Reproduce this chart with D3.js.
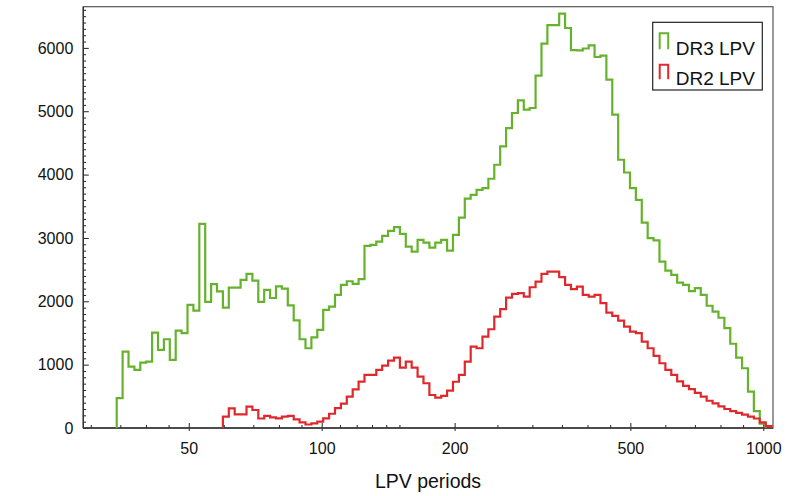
<!DOCTYPE html>
<html lang="en">
    <head>
        <meta charset="utf-8">
        <title>LPV periods histogram</title>
        <script src="https://d3js.org/d3.v7.min.js"></script>
        <style>
            body { margin: 0; background: #fff; }
            text { font-family: "Liberation Sans", Arial, Helvetica, sans-serif; fill: #111; }
        </style>
    </head>
<body>
    <div id="chart"></div>
    <script type="text/javascript">

var w = 804;
var h = 496;
// plot frame in pixels
var plotL = 83.3, plotR = 773, plotT = 6.7, plotB = 428;

// histogram bins are equal steps in log10(period)
var binLogStart = 1.5358;
var binLogWidth = 0.01336;

// DR3 LPV counts, bin 0 upwards
var dr3Counts = [470, 1205, 968, 916, 1032, 1048, 1506, 1232, 1401, 1074,
    1537, 1496, 1943, 1853, 3223, 1990, 2272, 2158, 1900, 2216,
    2216, 2338, 2433, 2325, 1990, 2180, 2052, 2237, 2200, 1937,
    1700, 1401, 1259, 1430, 1548, 1864, 1916, 2101, 2259, 2316,
    2275, 2349, 2875, 2891, 2943, 3033, 3112, 3171, 3065, 2864,
    2785, 2970, 2927, 2848, 2927, 2970, 2801, 3049, 3320, 3620,
    3681, 3760, 3787, 3934, 4155, 4444, 4734, 4972, 5171, 5024,
    5051, 5561, 6066, 6360, 6360, 6540, 6314, 5965, 5960, 5990,
    6040, 5856, 5877, 5498, 4945, 4234, 4033, 3787, 3602, 3243,
    2997, 2960, 2627, 2485, 2417, 2295, 2260, 2160, 2207, 2101,
    1930, 1837, 1740, 1575, 1330, 1110, 943, 573, 265, 68];

// DR2 LPV counts, starting at bin 18
var dr2FirstBin = 18;
var dr2Counts = [179, 311, 216, 216, 337, 284, 150, 190, 169, 153,
    179, 190, 137, 90, 55, 74, 100, 153, 225, 315,
    385, 495, 611, 731, 837, 837, 916, 984, 1063, 1111,
    953, 1048, 953, 810, 706, 521, 479, 506, 589, 730,
    837, 1048, 1284, 1259, 1442, 1559, 1758, 1875, 2058, 2117,
    2128, 2074, 2222, 2311, 2433, 2469, 2469, 2381, 2259, 2191,
    2232, 2101, 2074, 2101, 1970, 1822, 1769, 1695, 1600, 1521,
    1496, 1363, 1259, 1137, 1022, 916, 837, 735, 665, 615,
    553, 495, 430, 390, 340, 300, 265, 240, 210, 180,
    150, 90, 30];

var seriesNames = ["DR3 LPV", "DR2 LPV"];
var seriesColors = ["#66b22c", "#e0282c"];

var xMajorTicks = [50, 100, 200, 500, 1000];
var xMinorTicks = [30, 35, 40, 45, 60, 70, 80, 90, 110, 120, 130, 140, 150,
    250, 300, 350, 400, 450, 600, 700, 800, 900];
var yMajorTicks = [0, 1000, 2000, 3000, 4000, 5000, 6000];
var yMinorStep = 100;
var xTitle = "LPV periods";

var xScale = d3.scaleLog()
    .domain([28.85, 1052])
    .range([plotL, plotR]);

var yScale = d3.scaleLinear()
    .domain([0, 6650])
    .range([plotB, plotT]);

var svgChart;
setSvg();
drawAxes();
drawHist(dr3Counts, 0, seriesColors[0]);
drawHist(dr2Counts, dr2FirstBin, seriesColors[1]);
drawLegend();

function setSvg(){
    svgChart = d3.select("#chart")
      .append("svg")
      .attr("width", w)
      .attr("height", h);
    svgChart.append("rect")
      .attr("width", w).attr("height", h)
      .attr("fill", "#fff");
    svgChart.append("clipPath")
      .attr("id", "plotclip")
      .append("rect")
      .attr("x", plotL).attr("y", plotT)
      .attr("width", plotR - plotL).attr("height", plotB - plotT);
}

function drawAxes(){
    var yMinor = d3.range(0, yScale.domain()[1], yMinorStep)
        .filter(function(v){ return v % 1000 !== 0; });

    // y axis, ticks point inward
    svgChart.append("g")
      .attr("class", "axis")
      .attr("transform", "translate(" + plotL + ",0)")
      .call(d3.axisLeft(yScale).tickValues(yMinor).tickSizeInner(-2.8).tickSizeOuter(0).tickFormat(""));
    var yAxis = svgChart.append("g")
      .attr("class", "axis")
      .attr("transform", "translate(" + plotL + ",0)")
      .call(d3.axisLeft(yScale).tickValues(yMajorTicks).tickSizeInner(-5.5).tickSizeOuter(0)
        .tickPadding(10).tickFormat(d3.format("d")));
    yAxis.selectAll("text").style("font-size", "16px");

    // x axis
    svgChart.append("g")
      .attr("class", "axis")
      .attr("transform", "translate(0," + plotB + ")")
      .call(d3.axisBottom(xScale).tickValues(xMinorTicks).tickSizeInner(-3).tickSizeOuter(0).tickFormat(""));
    var xAxis = svgChart.append("g")
      .attr("class", "axis")
      .attr("transform", "translate(0," + plotB + ")")
      .call(d3.axisBottom(xScale).tickValues(xMajorTicks).tickSizeInner(-5).tickSizeOuter(0)
        .tickPadding(15).tickFormat(d3.format("d")));
    xAxis.selectAll("text").style("font-size", "16px");
    // major x ticks poke a little below the axis
    xAxis.selectAll(".tick").append("line")
      .attr("y1", 0).attr("y2", 3)
      .attr("stroke", "#222");

    svgChart.selectAll(".axis .domain").remove();
    svgChart.selectAll(".axis line").attr("stroke", "#222");

    // frame
    svgChart.append("rect")
      .attr("x", plotL).attr("y", plotT)
      .attr("width", plotR - plotL).attr("height", plotB - plotT)
      .attr("fill", "none")
      .attr("stroke", "#555")
      .attr("stroke-width", 1.2);
    svgChart.append("line")
      .attr("x1", plotL).attr("x2", plotR)
      .attr("y1", plotB).attr("y2", plotB)
      .attr("stroke", "#333").attr("stroke-width", 1.4);
    svgChart.append("line")
      .attr("x1", plotL).attr("x2", plotL)
      .attr("y1", plotT).attr("y2", plotB)
      .attr("stroke", "#333").attr("stroke-width", 1.4);

    // x title
    svgChart.append("text")
      .attr("x", 428)
      .attr("y", 488)
      .style("text-anchor", "middle")
      .style("font-size", "19.5px")
      .text(xTitle);
}

function binEdge(i){
    return Math.pow(10, binLogStart + i * binLogWidth);
}

function drawHist(counts, firstBin, color){
    var pts = [[binEdge(firstBin), 0]];
    counts.forEach(function(c, i){
        pts.push([binEdge(firstBin + i), c]);
        pts.push([binEdge(firstBin + i + 1), c]);
    });
    pts.push([binEdge(firstBin + counts.length), 0]);

    var line = d3.line()
      .x(function(d){ return xScale(d[0]); })
      .y(function(d){ return yScale(d[1]); });

    svgChart.append("path")
      .attr("d", line(pts))
      .attr("clip-path", "url(#plotclip)")
      .attr("fill", "none")
      .attr("stroke", color)
      .attr("stroke-width", 2.2)
      .attr("stroke-linejoin", "miter");
}

function drawLegend(){
    var lx = 652.7, ly = 22.3;
    var g = svgChart.append("g");
    g.append("rect")
      .attr("x", lx).attr("y", ly)
      .attr("width", 109.6).attr("height", 67.7)
      .attr("fill", "#fff")
      .attr("stroke", "#222")
      .attr("stroke-width", 1.2);

    seriesNames.forEach(function(name, i){
        var top = ly + 11 + i * 31.5;
        var bot = top + 16 - i * 1.5;
        g.append("path")
          .attr("d", "M" + (lx + 7) + "," + bot + "V" + top + "H" + (lx + 15.5) + "V" + bot)
          .attr("fill", "none")
          .attr("stroke", seriesColors[i])
          .attr("stroke-width", 2);
        g.append("text")
          .attr("x", lx + 23)
          .attr("y", ly + 32.5 + i * 30)
          .style("font-size", "19px")
          .text(name);
    });
}
    </script>
</body>
</html>
